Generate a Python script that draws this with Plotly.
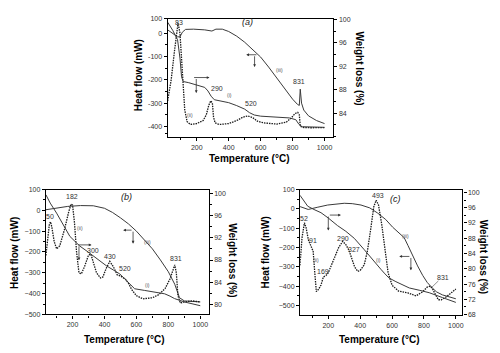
import plotly.graph_objects as go

# ---------------- Panel (a) ----------------
a_T_i = [18, 50, 80, 95, 105, 115, 150, 200, 250, 270, 290, 310, 350, 400, 450, 500, 530, 560, 600, 700, 780, 820, 840, 860, 1000]
a_wt_i = [99.5, 98.1, 96.5, 93.4, 90.2, 89.4, 89.2, 88.8, 88.4, 87.8, 86.9, 86.3, 86.1, 85.8, 85.3, 84.7, 84.1, 83.7, 83.5, 83.4, 83.2, 82.9, 82.1, 81.7, 81.6]
a_T_ii = [18, 40, 60, 75, 83, 95, 110, 125, 140, 160, 200, 240, 260, 275, 288, 298, 305, 315, 340, 400, 450, 490, 520, 550, 580, 620, 700, 760, 790, 815, 832, 842, 848, 870, 920, 1000]
a_hf_ii = [-290, -200, -80, 20, 45, 0, -150, -330, -380, -392, -388, -375, -350, -310, -290, -300, -360, -385, -392, -388, -375, -360, -355, -362, -378, -385, -390, -382, -365, -345, -340, -350, -400, -405, -406, -405]
a_T_iii = [18, 50, 80, 95, 110, 130, 180, 250, 280, 295, 320, 360, 400, 450, 500, 550, 600, 650, 700, 750, 800, 830, 842, 848, 856, 870, 900, 950, 1000]
a_hf_iii = [15, 0, -15, -15, 5, 17, 18, 15, 10, 10, 18, 18, 8, -12, -38, -68, -102, -145, -192, -240, -283, -305, -310, -240, -300, -330, -355, -375, -388]

# ---------------- Panel (b) ----------------
b_T_i = [33, 60, 100, 140, 183, 220, 246, 290, 329, 370, 412, 455, 496, 530, 558, 589, 652, 720, 777, 810, 839, 900, 985, 1000]
b_wt_i = [99.76, 98.26, 96.45, 94.30, 92.27, 91.22, 90.50, 89.60, 88.73, 87.83, 86.96, 86.21, 85.49, 84.51, 83.68, 82.82, 82.52, 82.25, 81.91, 81.50, 81.05, 80.45, 79.84, 79.77]
b_T_ii = [33, 45, 55, 62, 70, 85, 100, 120, 150, 175, 190, 200, 212, 225, 240, 255, 275, 300, 315, 330, 350, 375, 390, 410, 433, 455, 480, 500, 530, 550, 570, 600, 640, 700, 740, 780, 810, 830, 840, 850, 860, 875, 900, 950, 1000]
b_hf_ii = [-217, -120, -65, -55, -80, -150, -185, -170, -90, -10, 30, 25, -60, -200, -300, -305, -270, -215, -210, -250, -300, -325, -320, -280, -245, -270, -310, -315, -330, -350, -380, -410, -425, -420, -405, -375, -330, -285, -262, -300, -410, -445, -440, -435, -440]
b_T_iii = [33, 100, 170, 250, 330, 400, 450, 500, 550, 600, 650, 700, 750, 800, 840, 870, 900, 950, 1000]
b_hf_iii = [3, 10, 19, 23, 22, 10, -10, -36, -65, -100, -140, -185, -238, -295, -355, -420, -435, -437, -440]

# ---------------- Panel (c) ----------------
c_T_i = [22, 71, 110, 154, 200, 258, 310, 363, 426, 488, 530, 551, 580, 624, 670, 708, 770, 833, 917, 1000]
c_wt_i = [99.26, 96.38, 95.53, 94.69, 93.29, 91.30, 89.81, 87.97, 84.98, 82.10, 79.86, 78.87, 77.62, 76.63, 75.63, 74.98, 74.39, 73.74, 72.45, 71.20]
c_T_ii = [22, 35, 50, 60, 75, 91, 105, 115, 125, 140, 154, 169, 185, 200, 220, 240, 265, 290, 310, 330, 350, 365, 385, 400, 425, 445, 465, 485, 500, 515, 535, 555, 575, 600, 640, 700, 750, 790, 820, 840, 855, 870, 890, 910, 940, 970, 1000]
c_hf_ii = [-292, -150, -72, -95, -160, -190, -220, -330, -428, -415, -394, -352, -345, -330, -290, -250, -200, -168, -185, -215, -260, -300, -323, -318, -290, -220, -110, 10, 45, 20, -80, -220, -330, -395, -425, -435, -450, -430, -405, -400, -415, -440, -470, -470, -455, -435, -415]
c_T_iii = [22, 74, 130, 196, 300, 350, 405, 460, 510, 560, 604, 645, 676, 700, 729, 760, 792, 820, 854, 880, 916, 960, 1000]
c_hf_iii = [12, -3, 8, 20, 29, 27, 20, 5, -22, -55, -95, -128, -149, -190, -242, -295, -344, -380, -411, -430, -445, -455, -465]

# text labels: (panel, text, T, value, kind)
labels = [
    ("a", "83", 92, 48, "num"), ("a", "290", 326, -239, "num"), ("a", "(i)", 405, -267, "tag"),
    ("a", "520", 537, -300, "num"), ("a", "831", 843, -207, "num"), ("a", "(iii)", 718, -159, "tag"),
    ("a", "(ii)", 157, -352, "tag"),
    ("b", "50", 58, -29, "num"), ("b", "182", 194, 65, "num"), ("b", "(ii)", 246, -84, "tag"),
    ("b", "300", 329, -194, "num"), ("b", "430", 433, -221, "num"), ("b", "520", 527, -277, "num"),
    ("b", "(iii)", 669, -152, "tag"), ("b", "(i)", 669, -359, "tag"), ("b", "831", 850, -230, "num"),
    ("c", "52", 50, -52, "num"), ("c", "91", 102, -161, "num"), ("c", "(ii)", 123, -267, "tag"),
    ("c", "169", 165, -323, "num"), ("c", "290", 290, -152, "num"), ("c", "327", 363, -212, "num"),
    ("c", "493", 509, 71, "num"), ("c", "(iii)", 687, -142, "tag"), ("c", "(i)", 515, -262, "tag"),
    ("c", "831", 917, -357, "num"),
]
panel_titles = [("a", "(a)", 518, 50), ("b", "(b)", 538, 65), ("c", "(c)", 624, 49)]
# T-shaped arrows: (panel, horizontal tail T, head T, at value, vertical head value, vertical at T)
arrows = [
    ("a", 174, 280, -190, -257, 197),
    ("a", 583, 510, -92, -145, 562),
    ("b", 225, 319, -166, -240, 240),
    ("b", 579, 517, -95, -160, 579),
    ("c", 200, 279, -32, -112, 200),
    ("c", 718, 645, -246, -318, 718),
]

FONT = "Liberation Sans, Arial, sans-serif"
axes = {"a": ("x", "y", "y2"), "b": ("x2", "y3", "y4"), "c": ("x3", "y5", "y6")}

fig = go.Figure()
line_dark = dict(color="#3a3a3a", width=1)
line_dot = dict(color="#1a1a1a", width=1.3, dash="1.5px,1px")

def add_panel(p, Ti, wi, Tii, hii, Tiii, hiii):
    xa, yl, yr = axes[p]
    fig.add_trace(go.Scatter(x=Tiii, y=hiii, mode="lines", line=line_dark, xaxis=xa, yaxis=yl, showlegend=False))
    fig.add_trace(go.Scatter(x=Tii, y=hii, mode="lines", line=line_dot, xaxis=xa, yaxis=yl, showlegend=False))
    fig.add_trace(go.Scatter(x=Ti, y=wi, mode="lines", line=line_dark, xaxis=xa, yaxis=yr, showlegend=False))

add_panel("a", a_T_i, a_wt_i, a_T_ii, a_hf_ii, a_T_iii, a_hf_iii)
add_panel("b", b_T_i, b_wt_i, b_T_ii, b_hf_ii, b_T_iii, b_hf_iii)
add_panel("c", c_T_i, c_wt_i, c_T_ii, c_hf_ii, c_T_iii, c_hf_iii)

W, H = 500, 353
def dom_x(l, r):
    return [l / W, r / W]
def dom_y(top, bot):
    return [1 - bot / H, 1 - top / H]

tickfont = dict(family=FONT, size=7, color="#333")
common_ax = dict(showline=True, linecolor="black", linewidth=1.3, ticks="outside", ticklen=3,
                 tickwidth=1, tickcolor="black", tickfont=tickfont, showgrid=False, zeroline=False)

def xaxis(dom, rng, anchor):
    return dict(common_ax, domain=dom, range=rng, anchor=anchor, tickvals=[200, 400, 600, 800, 1000],
                mirror=True, minor=dict(ticks="outside", ticklen=2, tickcolor="black", dtick=100, tick0=0))

layout = dict(
    width=W, height=H, margin=dict(l=0, r=0, t=0, b=0),
    paper_bgcolor="white", plot_bgcolor="white",
    xaxis=xaxis(dom_x(168, 334), [18, 1055], "y"),
    xaxis2=xaxis(dom_x(46, 209), [33, 1052], "y3"),
    xaxis3=xaxis(dom_x(300.7, 463.3), [23, 1041], "y5"),
    yaxis=dict(common_ax, domain=dom_y(15, 136), range=[-447, 63], anchor="x",
               tickvals=[63, 0, -100, -200, -300, -400], ticktext=["100", "0", "-100", "-200", "-300", "-400"],
               minor=dict(ticks="outside", ticklen=2, tickcolor="black", tickvals=[-50, -150, -250, -350, -430])),
    yaxis2=dict(common_ax, range=[79.9, 100.1], overlaying="y", side="right", anchor="x",
                tickvals=[100, 96, 92, 88, 84],
                minor=dict(ticks="outside", ticklen=2, tickcolor="black", dtick=2, tick0=0)),
    yaxis3=dict(common_ax, domain=dom_y(189.3, 316.7), range=[-500, 100], anchor="x2", dtick=100,
                minor=dict(ticks="outside", ticklen=2, tickcolor="black", dtick=50)),
    yaxis4=dict(common_ax, range=[78.2, 100.7], overlaying="y3", side="right", anchor="x2",
                tickvals=[100, 96, 92, 88, 84, 80],
                minor=dict(ticks="outside", ticklen=2, tickcolor="black", dtick=2, tick0=0)),
    yaxis5=dict(common_ax, domain=dom_y(189.3, 317.3), range=[-549, 100], anchor="x3", dtick=100,
                minor=dict(ticks="outside", ticklen=2, tickcolor="black", dtick=50)),
    yaxis6=dict(common_ax, range=[67.9, 100.75], overlaying="y5", side="right", anchor="x3",
                tickvals=[100, 96, 92, 88, 84, 80, 76, 72, 68],
                minor=dict(ticks="outside", ticklen=2, tickcolor="black", dtick=2, tick0=0)),
)
fig.update_layout(**layout)

ann = []
for p, txt, T, v, kind in labels:
    xa, yl, _ = axes[p]
    if kind == "num":
        f = dict(family=FONT, size=7, color="#333333")
    else:
        f = dict(family=FONT, size=5, color="#555555")
    ann.append(dict(x=T, y=v, xref=xa, yref=yl, text=txt, showarrow=False, font=f))
for p, txt, T, v in panel_titles:
    xa, yl, _ = axes[p]
    ann.append(dict(x=T, y=v, xref=xa, yref=yl, text="<i>" + txt + "</i>", showarrow=False,
                    font=dict(family=FONT, size=9, color="#222222")))
for p, h0, h1, hv, vv, vt in arrows:
    xa, yl, _ = axes[p]
    ann.append(dict(x=h1, y=hv, ax=h0, ay=hv, xref=xa, yref=yl, axref=xa, ayref=yl, text="",
                    showarrow=True, arrowhead=2, arrowsize=0.7, arrowwidth=0.8, arrowcolor="#333"))
    ann.append(dict(x=vt, y=vv, ax=vt, ay=hv, xref=xa, yref=yl, axref=xa, ayref=yl, text="",
                    showarrow=True, arrowhead=2, arrowsize=0.7, arrowwidth=0.8, arrowcolor="#333"))
# leader line for 831 in (c)
ann.append(dict(x=850, y=-405, ax=900, ay=-365, xref="x3", yref="y5", axref="x3", ayref="y5", text="",
                showarrow=True, arrowhead=0, arrowwidth=0.6, arrowcolor="#444"))

titles = [
    ("Heat flow (mW)", 139, 73, -90), ("Weight loss (%)", 360, 66, 90), ("Temperature (°C)", 250, 158, 0),
    ("Heat flow (mW)", 15, 254, -90), ("Weight loss (%)", 233, 261, 90), ("Temperature (°C)", 125, 342, 0),
    ("Heat flow (mW)", 267, 253, -90), ("Weight loss (%)", 484, 258, 90), ("Temperature (°C)", 380, 342, 0),
]
for txt, px, py, ang in titles:
    ann.append(dict(x=px / W, y=1 - py / H, xref="paper", yref="paper", text="<b>" + txt + "</b>",
                    textangle=ang, showarrow=False, xanchor="center", yanchor="middle",
                    font=dict(family=FONT, size=10, color="black")))
fig.update_layout(annotations=ann)

fig.write_html("out.html")
